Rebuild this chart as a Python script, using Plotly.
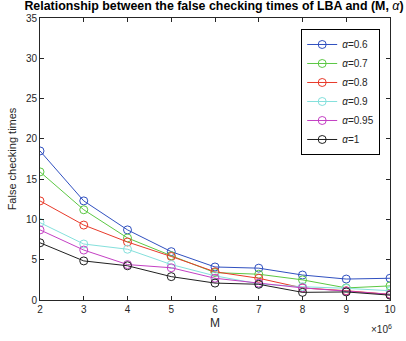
import plotly.graph_objects as go

# M values, in units of 10^6
m_values = [2, 3, 4, 5, 6, 7, 8, 9, 10]

alpha_labels = ["0.6", "0.7", "0.8", "0.9", "0.95", "1"]

false_checks_a06 = [18.5, 12.3, 8.7, 6.0, 4.1, 3.95, 3.1, 2.6, 2.7]
false_checks_a07 = [15.9, 11.2, 7.7, 5.5, 3.4, 3.2, 2.5, 1.5, 1.75]
false_checks_a08 = [12.3, 9.3, 7.2, 5.4, 3.5, 2.7, 1.5, 1.15, 0.7]
false_checks_a09 = [9.6, 6.95, 6.3, 4.4, 3.0, 2.0, 1.65, 1.45, 1.15]
false_checks_a095 = [8.7, 6.2, 4.4, 4.0, 2.7, 2.1, 1.5, 1.1, 0.7]
false_checks_a1 = [7.1, 4.85, 4.25, 2.9, 2.1, 1.95, 0.95, 1.0, 0.6]

series = [false_checks_a06, false_checks_a07, false_checks_a08,
          false_checks_a09, false_checks_a095, false_checks_a1]
colors = ["#3050c0", "#5cc844", "#e83a2a", "#84e0dc", "#c440c4", "#202020"]

y_ticks = [0, 5, 10, 15, 20, 25, 30, 35]

axis_color = "#262626"
font_family = "Liberation Sans, Arial, sans-serif"

fig = go.Figure()
for label, values, color in zip(alpha_labels, series, colors):
    fig.add_trace(go.Scatter(
        x=m_values, y=values, mode="lines+markers",
        name="<i>α</i>=" + label,
        line=dict(color=color, width=1),
        marker=dict(symbol="circle-open", size=8, color=color,
                    line=dict(width=1, color=color)),
    ))

axis_common = dict(
    showline=True, mirror="ticks", linecolor=axis_color, linewidth=1,
    ticks="inside", ticklen=4, tickcolor=axis_color, showgrid=False,
    zeroline=False, tickfont=dict(size=10, color=axis_color, family=font_family),
)

fig.update_layout(
    width=406, height=341,
    margin=dict(l=40, r=10, t=18, b=41),
    paper_bgcolor="white", plot_bgcolor="white",
    font=dict(family=font_family, color=axis_color),
    title=dict(
        text="<b>Relationship between the false checking times of LBA and (M, </b><i>α</i><b>)</b>",
        x=0.527, xanchor="center", y=0.995, yanchor="top",
        font=dict(size=12.4, color="black", family=font_family),
    ),
    xaxis=dict(range=[2, 10], tickvals=m_values, title=dict(
        text="M", font=dict(size=12, color=axis_color), standoff=4), **axis_common),
    yaxis=dict(range=[0, 35], tickvals=y_ticks, title=dict(
        text="False checking times", font=dict(size=11, color=axis_color), standoff=7),
        **axis_common),
    legend=dict(
        x=0.972, xanchor="right", y=0.961, yanchor="top",
        bgcolor="white", bordercolor="black", borderwidth=1,
        font=dict(size=10, color=axis_color, family=font_family),
        tracegroupgap=0, itemwidth=30,
    ),
    showlegend=True,
)

fig.add_annotation(
    text="×10<sup>6</sup>", xref="paper", yref="paper", x=1.01, y=-0.075,
    xanchor="right", yanchor="top", showarrow=False,
    font=dict(size=10, color=axis_color, family=font_family),
)

fig.write_html("out.html")
